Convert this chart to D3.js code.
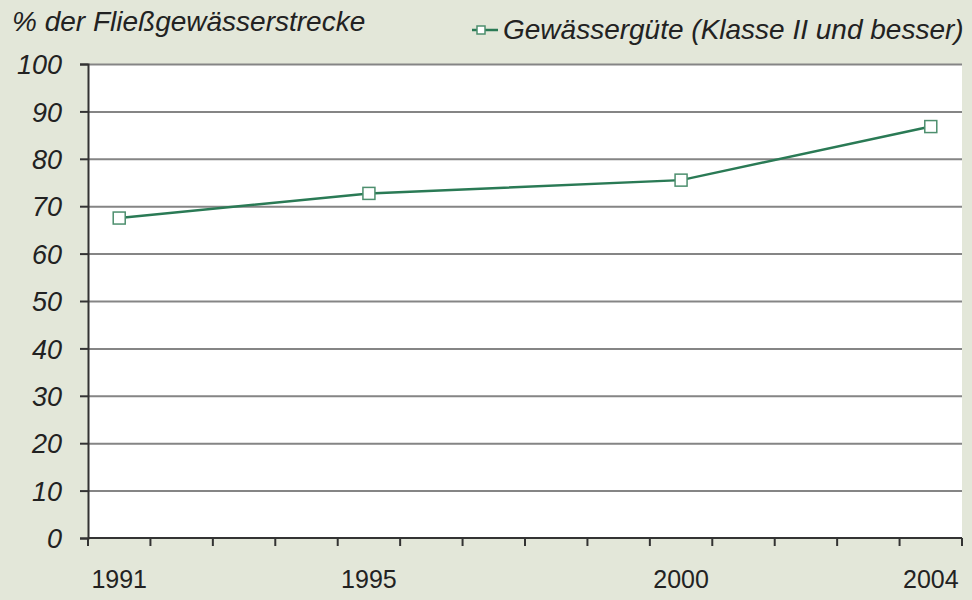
<!DOCTYPE html>
<html>
<head>
<meta charset="utf-8">
<script src="https://cdn.jsdelivr.net/npm/d3@7"></script>
<style>
  body { margin: 0; background: #e3e7d9; }
  svg { display: block; font-family: "Liberation Sans", Arial, sans-serif; }
</style>
</head>
<body>
<svg id="chart" width="972" height="600"></svg>
<script>
// categories (one band per year) and the measured points
var years = ["1991","1992","1993","1994","1995","1996","1997","1998","1999","2000","2001","2002","2003","2004"];
var labelYears = ["1991","1995","2000","2004"];
var pointYears = ["1991","1995","2000","2004"];
var pointValues = [67.5, 72.7, 75.5, 86.8];
var yTicks = [0,10,20,30,40,50,60,70,80,90,100];

var seriesName = "Gewässergüte (Klasse II und besser)";
var yTitle = "% der Fließgewässerstrecke";

var width = 972, height = 600;
var margin = {top: 64, left: 88, right: 10, bottom: 62};

var svg = d3.select("#chart");

var x = d3.scaleBand()
	.domain(years)
	.range([margin.left, width - margin.right]);

var y = d3.scaleLinear()
	.domain([0, 100])
	.range([height - margin.bottom, margin.top]);

// plot background
svg.append("rect")
	.attr("x", x.range()[0])
	.attr("y", y(100))
	.attr("width", x.range()[1] - x.range()[0])
	.attr("height", y(0) - y(100))
	.attr("fill", "#ffffff");

// gridlines
svg.append("g")
	.selectAll("line")
	.data(yTicks.filter(function(d) { return d > 0; }))
	.enter()
	.append("line")
	.attr("x1", x.range()[0])
	.attr("x2", x.range()[1])
	.attr("y1", function(d) { return y(d) + 0.5; })
	.attr("y2", function(d) { return y(d) + 0.5; })
	.attr("stroke", "#858585")
	.attr("stroke-width", 2);

// y axis
var yAxis = d3.axisLeft(y)
	.tickValues(yTicks)
	.tickSize(8)
	.tickPadding(18);

var yg = svg.append("g")
	.attr("transform", "translate(" + margin.left + ",0)")
	.call(yAxis);
yg.select(".domain").attr("stroke", "#333").attr("stroke-width", 2);
yg.selectAll(".tick line").attr("stroke", "#333").attr("stroke-width", 2);
yg.selectAll(".tick text")
	.attr("fill", "#222")
	.attr("dy", "0.36em")
	.style("font-size", "27px")
	.style("font-style", "italic");

// x axis, ticks between categories
var xAxis = d3.axisBottom(x)
	.tickValues(labelYears)
	.tickSize(0)
	.tickPadding(32);

var xg = svg.append("g")
	.attr("transform", "translate(0," + y(0) + ")")
	.call(xAxis);
xg.select(".domain").remove();
xg.selectAll(".tick text")
	.attr("fill", "#222")
	.style("font-size", "25px");

var bounds = years.map(function(d) { return x(d); }).concat([x.range()[1]]);
xg.selectAll(".xtick")
	.data(bounds)
	.enter()
	.append("line")
	.attr("class", "xtick")
	.attr("x1", function(d) { return d; })
	.attr("x2", function(d) { return d; })
	.attr("y1", 0)
	.attr("y2", 8)
	.attr("stroke", "#333")
	.attr("stroke-width", 2);

xg.append("line")
	.attr("x1", x.range()[0])
	.attr("x2", x.range()[1])
	.attr("y1", 0)
	.attr("y2", 0)
	.attr("stroke", "#333")
	.attr("stroke-width", 2);

// series line
var points = pointYears.map(function(d, i) { return {year: d, value: pointValues[i]}; });

var line = d3.line()
	.x(function(d) { return x(d.year) + x.bandwidth() / 2; })
	.y(function(d) { return y(d.value); });

svg.append("path")
	.datum(points)
	.attr("d", line)
	.attr("fill", "none")
	.attr("stroke", "#2a7a55")
	.attr("stroke-width", 2.5);

svg.selectAll(".marker")
	.data(points)
	.enter()
	.append("rect")
	.attr("class", "marker")
	.attr("x", function(d) { return x(d.year) + x.bandwidth() / 2 - 6; })
	.attr("y", function(d) { return y(d.value) - 6; })
	.attr("width", 12)
	.attr("height", 12)
	.attr("fill", "#ffffff")
	.attr("stroke", "#4d8f6e")
	.attr("stroke-width", 1.5);

// y title
svg.append("text")
	.attr("x", 12)
	.attr("y", 31)
	.attr("fill", "#222")
	.style("font-size", "28px")
	.style("font-style", "italic")
	.text(yTitle);

// legend
var lg = svg.append("g").attr("transform", "translate(472,30)");
lg.append("line")
	.attr("x1", 0).attr("x2", 26)
	.attr("y1", 0).attr("y2", 0)
	.attr("stroke", "#2a7a55")
	.attr("stroke-width", 2.5);
lg.append("rect")
	.attr("x", 5).attr("y", -4)
	.attr("width", 8).attr("height", 8)
	.attr("fill", "#ffffff")
	.attr("stroke", "#4d8f6e")
	.attr("stroke-width", 1.5);
lg.append("text")
	.attr("x", 31)
	.attr("y", 9)
	.attr("fill", "#222")
	.style("font-size", "28px")
	.style("font-style", "italic")
	.text(seriesName);
</script>
</body>
</html>
